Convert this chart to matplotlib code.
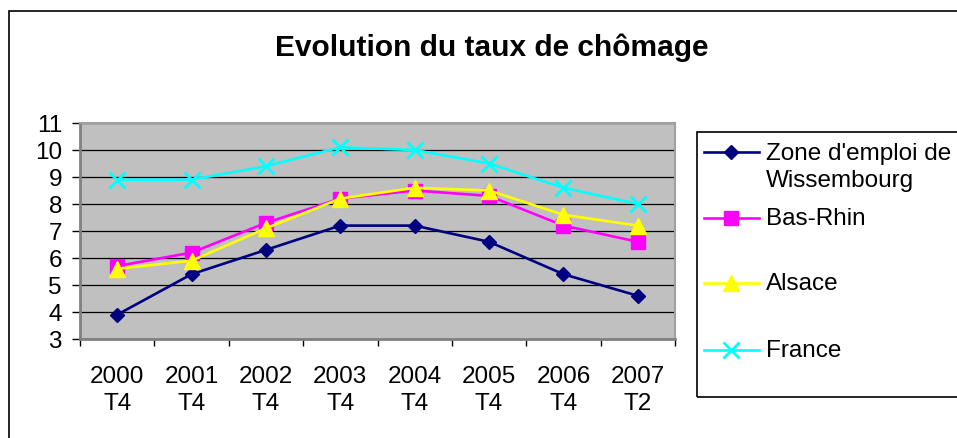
import matplotlib
matplotlib.use('Agg')
import matplotlib.pyplot as plt
from matplotlib.lines import Line2D
from matplotlib.patches import Rectangle
from matplotlib.ticker import FixedLocator

plt.rcParams['font.family'] = ['Liberation Sans', 'DejaVu Sans']

# data
periods = ['2000\nT4', '2001\nT4', '2002\nT4', '2003\nT4', '2004\nT4', '2005\nT4', '2006\nT4', '2007\nT2']
zone = [3.9, 5.4, 6.3, 7.2, 7.2, 6.6, 5.4, 4.6]
bas_rhin = [5.7, 6.2, 7.3, 8.2, 8.5, 8.3, 7.2, 6.6]
alsace = [5.6, 5.9, 7.1, 8.2, 8.6, 8.5, 7.6, 7.2]
france = [8.9, 8.9, 9.4, 10.1, 10.0, 9.5, 8.6, 8.0]
labels = ["Zone d'emploi de\nWissembourg", 'Bas-Rhin', 'Alsace', 'France']

W, H = 957, 439

def fx(x):
    return x / W

def fy(y):
    return 1 - y / H

series = [
    (zone, labels[0], '#000080', 'D', 7.5, 1),
    (bas_rhin, labels[1], '#FF00FF', 's', 10, 1),
    (alsace, labels[2], '#FFFF00', '^', 11, 1),
    (france, labels[3], '#00FFFF', 'x', 11, 2),
]

fig = plt.figure(figsize=(W / 100, H / 100), dpi=100)
fig.patch.set_facecolor('white')

# outer chart frame
fig.add_artist(Rectangle((fx(9), -0.2), 2, fy(12) + 0.2, transform=fig.transFigure,
                         fill=False, ec='black', lw=1.2))

ax = fig.add_axes([fx(80), fy(340), fx(675) - fx(80), fy(124) - fy(340)])
ax.set_facecolor('#C0C0C0')

x = list(range(len(periods)))
for vals, lab, col, mk, ms, mew in series:
    ax.plot(x, vals, color=col, lw=1.9, marker=mk, markersize=ms,
            markeredgewidth=mew, markeredgecolor=col, markerfacecolor=col, zorder=3)

ax.set_xlim(-0.5, len(periods) - 0.5)
ax.set_ylim(3, 11)
ax.set_yticks(range(3, 12))
ax.yaxis.grid(True, color='black', lw=0.9)
ax.set_axisbelow(True)

ax.set_xticks(x)
ax.set_xticklabels(periods, fontsize=17.5, linespacing=1.3)
ax.xaxis.set_minor_locator(FixedLocator([i - 0.5 for i in range(len(periods) + 1)]))
ax.tick_params(axis='x', which='major', length=0, pad=19)
ax.tick_params(axis='x', which='minor', length=5, width=1, color='black', direction='out')
ax.tick_params(axis='y', length=6, width=1, color='black', direction='out', pad=7, labelsize=17.5)

for side in ['left', 'bottom']:
    ax.spines[side].set_color('#808080')
    ax.spines[side].set_linewidth(2)
for side in ['top', 'right']:
    ax.spines[side].set_color('#A0A0A0')
    ax.spines[side].set_linewidth(1.5)

fig.text(fx(492), fy(48), 'Evolution du taux de chômage', ha='center', va='center',
         fontsize=21.5, fontweight='bold')

# legend box, running off the right edge like the original
fig.add_artist(Rectangle((fx(697), fy(398)), 1, fy(133) - fy(398), transform=fig.transFigure,
                         fill=False, ec='black', lw=1.2))
leg_y = [153, 219, 284, 351]
for (vals, lab, col, mk, ms, mew), yy in zip(series, leg_y):
    fig.add_artist(Line2D([fx(704), fx(759)], [fy(yy), fy(yy)], transform=fig.transFigure,
                          color=col, lw=1.9))
    fig.add_artist(Line2D([fx(731)], [fy(yy)], transform=fig.transFigure, color=col,
                          marker=mk, markersize=ms, markeredgewidth=mew,
                          markeredgecolor=col, markerfacecolor=col))
    nlines = lab.count('\n') + 1
    fig.text(fx(766), fy(yy + (nlines - 1) * 14.5), lab, ha='left', va='center',
             fontsize=17.5, linespacing=1.25)

fig.savefig('out.png', dpi=100)
